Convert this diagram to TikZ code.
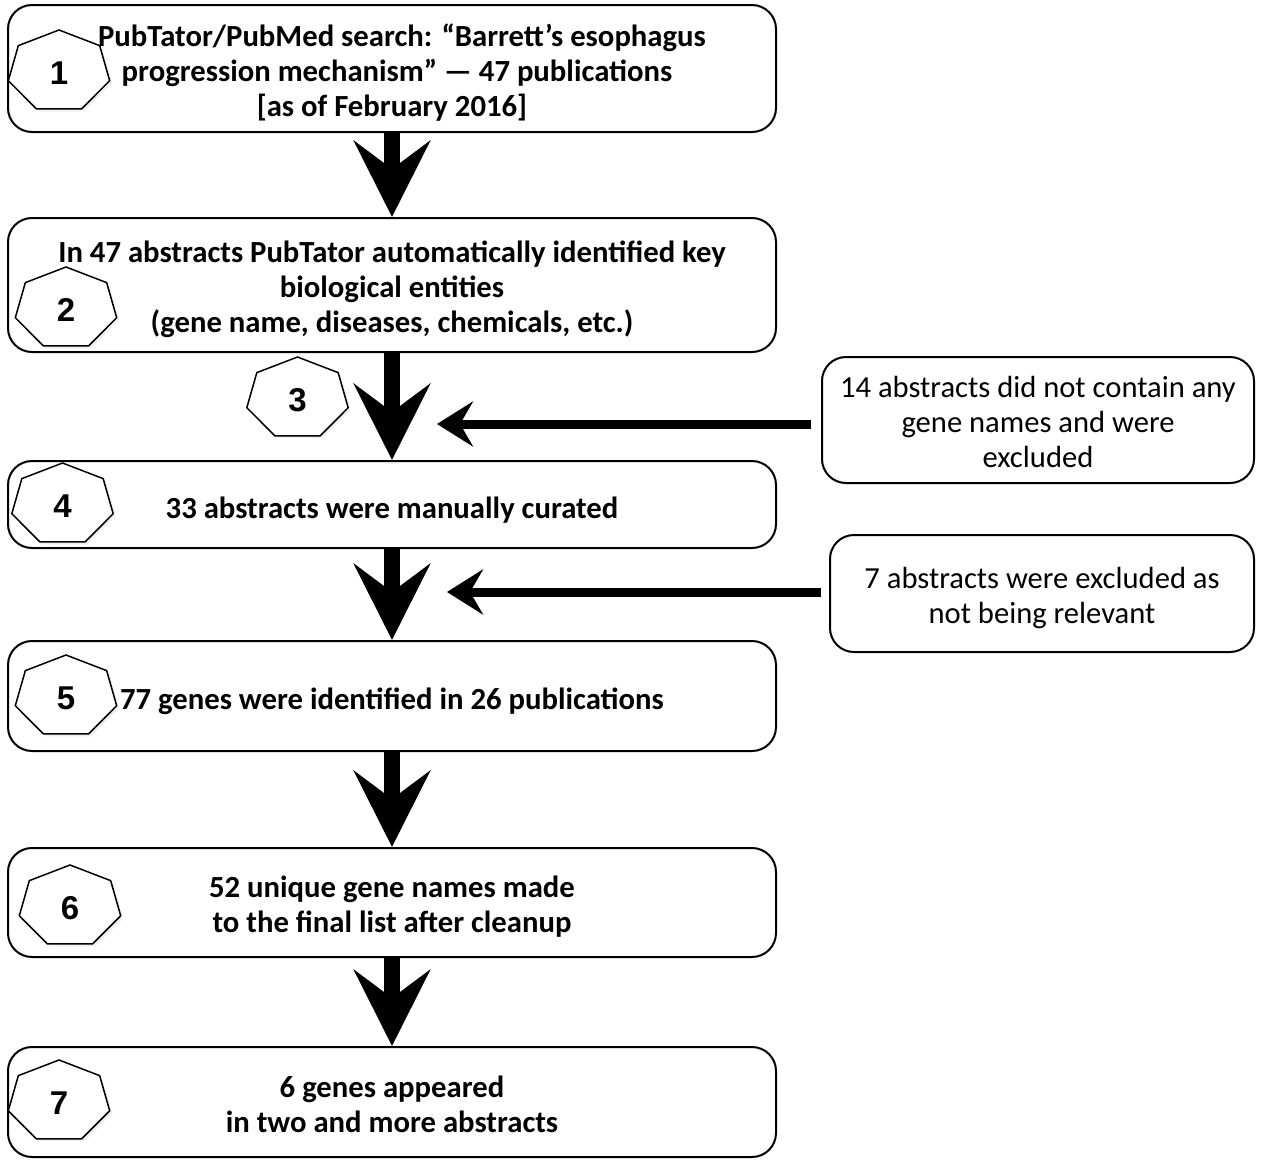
\documentclass[tikz,border=0pt]{standalone}
\usepackage{fontspec}
\setmainfont{Carlito}
\newfontfamily\numfont{Liberation Sans}
\usetikzlibrary{arrows.meta,shadows,calc}
\newcommand\txtdown[1]{\raisebox{-5.5pt}[\height][\depth]{#1}}
\newcommand\heptagonmark[4]{%
  \begin{scope}[shift={(#1,#2)}]
    \draw[hept] (-90:52 and 41.5) -- (-38.57:52 and 41.5) -- (12.86:52 and 41.5) -- (64.29:52 and 41.5) -- (115.71:52 and 41.5) -- (167.14:52 and 41.5) -- (218.57:52 and 41.5) -- cycle;
    \node[num] (#4) at (0,1.5) {#3};
  \end{scope}}
\begin{document}
\begin{tikzpicture}[x=1pt,y=-1pt,
  box/.style={draw, line width=2pt, rounded corners=24pt, minimum width=768pt, align=center, font=\fontsize{30.7}{35}\selectfont\bfseries, inner sep=0pt},
  sidebox/.style={draw, line width=2pt, rounded corners=24pt, align=center, font=\fontsize{30.6}{35}\selectfont, inner sep=0pt},
  bigarrow/.style={line width=16pt, -{Stealth[length=76pt, width=76pt, inset=28pt]}},
  sidearrow/.style={line width=9pt, -{Stealth[length=36pt, width=45pt, inset=13pt]}},
  hept/.style={draw, line width=1.5pt, fill=white, drop shadow={shadow xshift=2.5pt, shadow yshift=-2.5pt, opacity=0.12}},
  num/.style={font=\numfont\bfseries\fontsize{33}{33}\selectfont, inner sep=0pt}
]
\useasboundingbox (0,0) rectangle (1262,1167);
\fill[white] (0,0) rectangle (1262,1167);

\node[box, minimum height=127pt] (b1) at (392,68.5) {\txtdown{\begin{tabular}{@{}c@{}}\hspace*{20pt}PubTator/PubMed search: “Barrett’s esophagus\\ \hspace*{10pt}progression mechanism” — 47 publications\\ {[as of February 2016]}\end{tabular}}};
\node[box, minimum height=134pt] (b2) at (392,285) {\txtdown{\begin{tabular}{@{}c@{}}In 47 abstracts PubTator automatically identified key\\ biological entities\\ (gene name, diseases, chemicals, etc.)\end{tabular}}};
\node[box, minimum height=87pt] (b4) at (392,504.5) {\txtdown{33 abstracts were manually curated}};
\node[box, minimum height=110pt] (b5) at (392,696) {\txtdown{77 genes were identified in 26 publications}};
\node[box, minimum height=109pt] (b6) at (392,902.5) {\txtdown{\begin{tabular}{@{}c@{}}52 unique gene names made\\ to the final list after cleanup\end{tabular}}};
\node[box, minimum height=110pt] (b7) at (392,1102) {\txtdown{\begin{tabular}{@{}c@{}}6 genes appeared\\ in two and more abstracts\end{tabular}}};

\node[sidebox, minimum width=432pt, minimum height=126pt] (sa) at (1038,420) {\txtdown{\begin{tabular}{@{}c@{}}14 abstracts did not contain any\\ gene names and were\\ excluded\end{tabular}}};
\node[sidebox, minimum width=424pt, minimum height=117pt] (sb) at (1042,593.5) {\txtdown{\begin{tabular}{@{}c@{}}7 abstracts were excluded as\\ not being relevant\end{tabular}}};

\heptagonmark{59}{71.5}{1}{h1}
\heptagonmark{66}{308.5}{2}{h2}
\heptagonmark{297.5}{398.5}{3}{h3}
\heptagonmark{62.5}{504.5}{4}{h4}
\heptagonmark{66}{696.5}{5}{h5}
\heptagonmark{70}{906.5}{6}{h6}
\heptagonmark{59}{1101.5}{7}{h7}

\draw[bigarrow] (b1.south) -- (b2.north);
\draw[bigarrow] (b2.south) -- (b4.north);
\draw[bigarrow] (b4.south) -- (b5.north);
\draw[bigarrow] (b5.south) -- (b6.north);
\draw[bigarrow] (b6.south) -- (b7.north);

\coordinate (ta) at (437,424);
\coordinate (tb) at (447,592);
\draw[sidearrow, shorten <=10pt] (ta -| sa.west) -- (ta);
\draw[sidearrow, shorten <=8pt] (tb -| sb.west) -- (tb);
\end{tikzpicture}
\end{document}
